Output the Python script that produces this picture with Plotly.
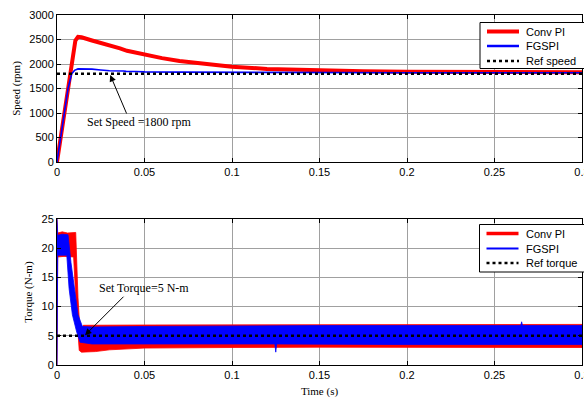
import plotly.graph_objects as go

# ---------------- data ----------------
time_ticks = [0, 0.05, 0.1, 0.15, 0.2, 0.25, 0.3]
time_tick_labels = ["0", "0.05", "0.1", "0.15", "0.2", "0.25", "0.3"]
speed_ticks = [0, 500, 1000, 1500, 2000, 2500, 3000]
torque_ticks = [0, 5, 10, 15, 20, 25]

conv_speed_t = [0, 0.0105, 0.012, 0.014, 0.02, 0.025, 0.03, 0.036, 0.04, 0.05, 0.06,
                0.07, 0.08, 0.09, 0.1, 0.12, 0.15, 0.175, 0.2, 0.25, 0.3]
conv_speed = [0, 2480, 2555, 2545, 2480, 2435, 2380, 2320, 2270, 2190, 2120,
              2060, 2015, 1975, 1945, 1900, 1870, 1852, 1843, 1835, 1831]

fgspi_speed_t = [0, 0.0063, 0.0084, 0.010, 0.012, 0.016, 0.02, 0.025, 0.03, 0.038,
                 0.0395, 0.045, 0.05, 0.07, 0.1, 0.15, 0.2, 0.3]
fgspi_speed = [0, 1500, 1800, 1870, 1900, 1902, 1895, 1878, 1862, 1858,
               1850, 1846, 1840, 1834, 1828, 1823, 1821, 1820]

ref_t = [0, 0.3]
ref_speed = [1800, 1800]
ref_torque = [5, 5]

conv_torque_t_upper = [0, 0.0004, 0.003, 0.006, 0.0107, 0.012, 0.0132, 0.015, 0.05,
                       0.1, 0.15, 0.2, 0.25, 0.3]
conv_torque_upper = [25, 22.6, 22.8, 22.6, 22.7, 11.5, 5.5, 6.8, 6.85,
                     6.85, 6.9, 6.95, 6.9, 6.95]
conv_torque_t_lower = [0, 0.0004, 0.004, 0.0095, 0.011, 0.0127, 0.014, 0.022, 0.03,
                       0.05, 0.1, 0.15, 0.2, 0.25, 0.3]
conv_torque_lower = [0, 18.5, 18.6, 18.5, 10, 2.5, 2.2, 2.3, 2.6,
                     2.9, 3.0, 3.05, 3.1, 3.05, 3.0]

fgspi_torque_t_upper = [0, 0.0004, 0.003, 0.0063, 0.008, 0.0101, 0.012, 0.0145, 0.02,
                        0.05, 0.1, 0.15, 0.2, 0.265, 0.2655, 0.266, 0.3]
fgspi_torque_upper = [25, 22.2, 22.4, 22.3, 17.5, 13.1, 8.6, 6.6, 6.5,
                      6.6, 6.7, 6.75, 6.75, 6.75, 7.4, 6.75, 6.75]
fgspi_torque_t_lower = [0, 0.0004, 0.0056, 0.0069, 0.0088, 0.0113, 0.0132, 0.02, 0.05,
                        0.1, 0.1245, 0.125, 0.1255, 0.2, 0.3]
fgspi_torque_lower = [0, 18.8, 18.8, 13.1, 8.6, 5.6, 3.9, 3.6, 3.6,
                      3.6, 3.6, 2.2, 3.6, 3.5, 3.5]

RED = "#ff0000"
BLUE = "#0000ff"
SANS = "Liberation Sans, Arial, sans-serif"
SERIF = "Liberation Serif, Times New Roman, serif"

fig = go.Figure()

# --- speed subplot ---
fig.add_trace(go.Scatter(x=conv_speed_t, y=conv_speed, mode="lines", name="Conv PI",
                         line=dict(color=RED, width=4), xaxis="x", yaxis="y", showlegend=False))
fig.add_trace(go.Scatter(x=fgspi_speed_t, y=fgspi_speed, mode="lines", name="FGSPI",
                         line=dict(color=BLUE, width=1.6), xaxis="x", yaxis="y", showlegend=False))
fig.add_trace(go.Scatter(x=ref_t, y=ref_speed, mode="lines", name="Ref speed",
                         line=dict(color="black", width=2.5, dash="dot"), xaxis="x", yaxis="y",
                         showlegend=False))

# --- torque subplot (ripple bands) ---
def band(tu, u, tl, l):
    return list(tu) + list(reversed(tl)), list(u) + list(reversed(l))

bx, by = band(conv_torque_t_upper, conv_torque_upper, conv_torque_t_lower, conv_torque_lower)
fig.add_trace(go.Scatter(x=bx, y=by, mode="lines", fill="toself", fillcolor=RED, name="Conv PI",
                         line=dict(color=RED, width=0.8), xaxis="x2", yaxis="y2", showlegend=False))
bx, by = band(fgspi_torque_t_upper, fgspi_torque_upper, fgspi_torque_t_lower, fgspi_torque_lower)
fig.add_trace(go.Scatter(x=bx, y=by, mode="lines", fill="toself", fillcolor=BLUE, name="FGSPI",
                         line=dict(color=BLUE, width=0.8), xaxis="x2", yaxis="y2", showlegend=False))
fig.add_trace(go.Scatter(x=ref_t, y=ref_torque, mode="lines", name="Ref torque",
                         line=dict(color="black", width=2.5, dash="dot"), xaxis="x2", yaxis="y2",
                         showlegend=False))

axis_common = dict(
    showline=True, linecolor="black", linewidth=1, mirror="allticks",
    ticks="inside", ticklen=4, tickcolor="black", tickwidth=1,
    showgrid=True, gridcolor="#a0a0a0", gridwidth=1, zeroline=False,
    tickfont=dict(family=SANS, size=11, color="black"), automargin=False,
    ticklabeloverflow="allow",
)

fig.update_layout(
    template="none",
    width=584, height=398,
    margin=dict(l=57, r=2, t=15, b=33),
    paper_bgcolor="white", plot_bgcolor="white",
    showlegend=False,
    xaxis=dict(domain=[0, 1], range=[0, 0.3], tickvals=time_ticks, ticktext=time_tick_labels,
               anchor="y", **axis_common),
    yaxis=dict(domain=[0.58, 1], range=[0, 3000], tickvals=speed_ticks, anchor="x",
               title=dict(text="Speed (rpm)", font=dict(family=SERIF, size=11, color="black"), standoff=6),
               **axis_common),
    xaxis2=dict(domain=[0, 1], range=[0, 0.3], tickvals=time_ticks, ticktext=time_tick_labels,
                anchor="y2",
                title=dict(text="Time (s)", font=dict(family=SERIF, size=11, color="black"), standoff=7),
                **axis_common),
    yaxis2=dict(domain=[0, 0.4171], range=[0, 25], tickvals=torque_ticks, anchor="x2",
                title=dict(text="Torque (N-m)", font=dict(family=SERIF, size=11, color="black"), standoff=6),
                **axis_common),
)

# ---- manual legends (paper coordinates from pixel positions) ----
def px(x):
    return (x - 57) / 525.0

def py(y):
    return (365 - y) / 350.0

shapes = []
annotations = []

def legend_box(left, top, bottom, rows):
    shapes.append(dict(type="rect", xref="paper", yref="paper", x0=px(left), x1=px(620),
                       y0=py(bottom), y1=py(top), fillcolor="white",
                       line=dict(color="black", width=1), layer="above"))
    for (label, color, width, dash, yrow) in rows:
        shapes.append(dict(type="line", xref="paper", yref="paper", x0=px(left + 7), x1=px(left + 39),
                           y0=py(yrow), y1=py(yrow), line=dict(color=color, width=width, dash=dash),
                           layer="above"))
        annotations.append(dict(text=label, xref="paper", yref="paper", x=px(left + 44), y=py(yrow),
                                xanchor="left", yanchor="middle", showarrow=False,
                                font=dict(family=SANS, size=11, color="black")))

legend_box(480, 22.5, 68.5, [
    ("Conv PI", RED, 4, "solid", 31.5),
    ("FGSPI", BLUE, 2.5, "solid", 46),
    ("Ref speed", "black", 2.5, "dot", 61),
])
legend_box(479.5, 224.5, 272, [
    ("Conv PI", RED, 3.5, "solid", 233.5),
    ("FGSPI", BLUE, 2, "solid", 248.5),
    ("Ref torque", "black", 2.5, "dot", 263),
])

# ---- annotations with arrows ----
annotations.append(dict(text="Set Speed =1800 rpm", xref="x", yref="y", x=0.047, y=816,
                        showarrow=False, font=dict(family=SERIF, size=12, color="black")))
annotations.append(dict(text="", xref="x", yref="y", x=0.0304, y=1776, ax=17, ay=40,
                        showarrow=True, arrowhead=2, arrowsize=1.3, arrowwidth=1, arrowcolor="black"))
annotations.append(dict(text="Set Torque=5 N-m", xref="x2", yref="y2", x=0.0495, y=13.2,
                        showarrow=False, font=dict(family=SERIF, size=12, color="black")))
annotations.append(dict(text="", xref="x2", yref="y2", x=0.016, y=5.1, ax=40, ay=-40,
                        showarrow=True, arrowhead=2, arrowsize=1.3, arrowwidth=1, arrowcolor="black"))

fig.update_layout(shapes=shapes, annotations=annotations)

# remove the default page margin so the 584x398 figure fills the window exactly
fig.write_html("out.html",
               config={"displayModeBar": False},
               post_script="document.body.style.margin='0';document.body.style.overflow='hidden';")
